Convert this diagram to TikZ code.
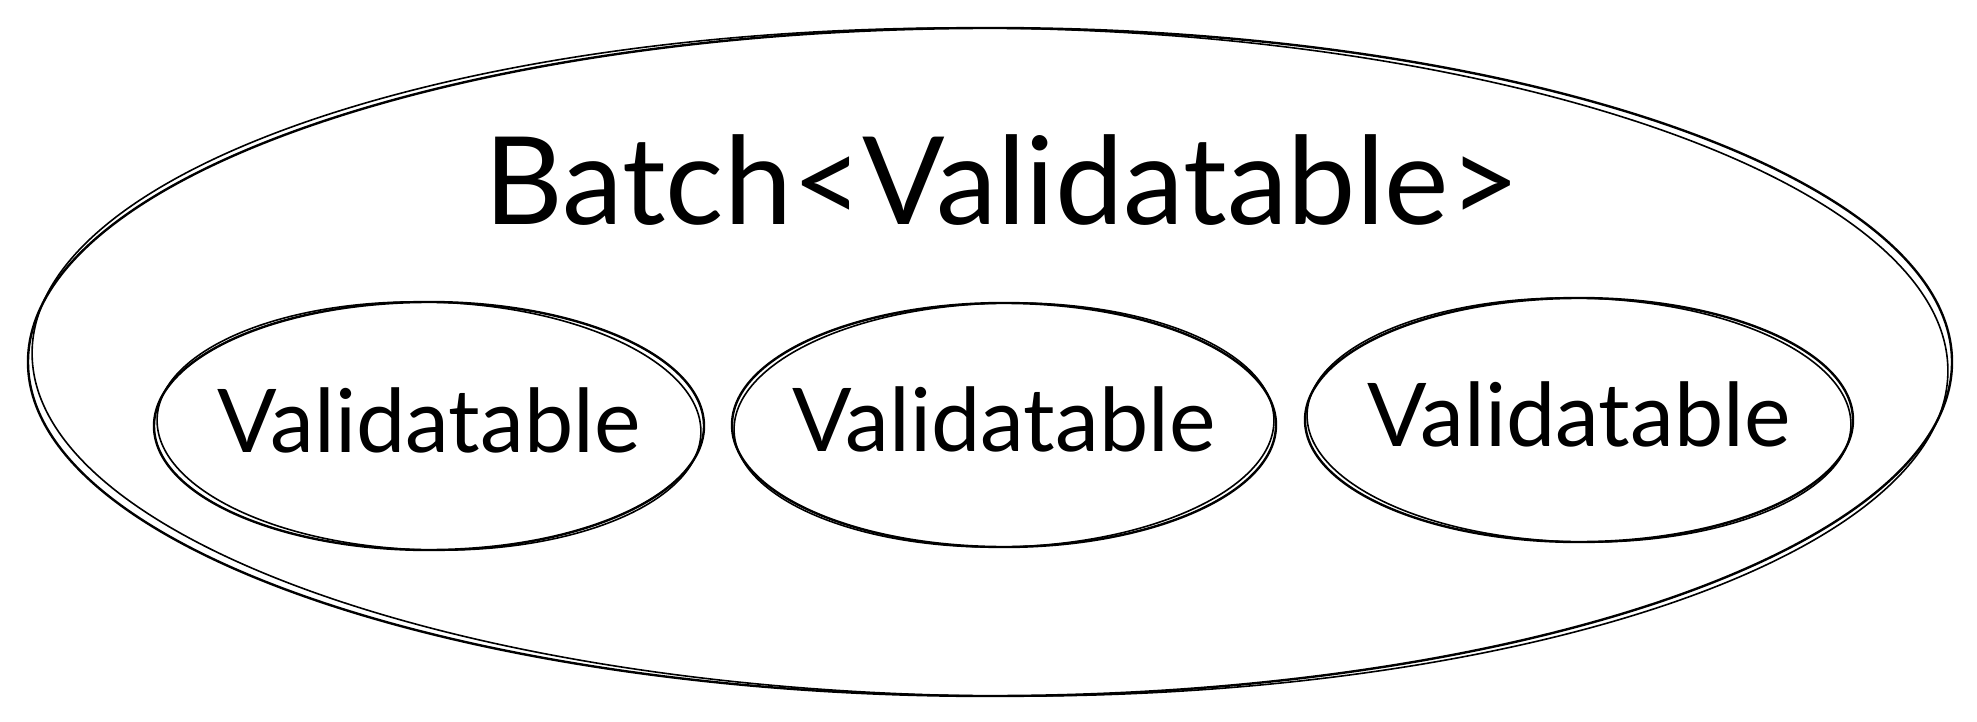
\documentclass[tikz,border=0pt]{standalone}
\usepackage{fontspec}
\setmainfont{Lato}
\usetikzlibrary{shapes.geometric}

\tikzset{
  blob/.style={draw, ellipse, line width=1.2pt, inner sep=0pt},
  retrace/.style={line width=0.8pt},
  itemtext/.style={font=\fontsize{44}{52}\selectfont, yshift=3pt},
}

\begin{document}
\begin{tikzpicture}[x=0.5pt,y=-0.5pt]
\useasboundingbox (0,0) rectangle (1977,722);

% the batch
\node[blob, minimum width=962pt, minimum height=334pt] (batch) at (990,362) {};
\node[font=\fontsize{61}{72}\selectfont] (title) at (1002,180) {Batch<Validatable>};

% the items
\node[blob, minimum width=275pt, minimum height=124pt,
  label={[itemtext]center:Validatable}] (valA) at (429,426) {};
\node[blob, minimum width=272pt, minimum height=122pt,
  label={[itemtext]center:Validatable}] (valB) at (1004,425) {};
\node[blob, minimum width=274pt, minimum height=122pt,
  label={[itemtext]center:Validatable}] (valC) at (1579,420) {};

% second strokes
\draw[retrace] (batch.center) ellipse [x radius=479pt, y radius=167pt, rotate=-0.6];
\draw[retrace] (valA.center) ellipse [x radius=136pt, y radius=62pt, rotate=-1.5];
\draw[retrace] (valB.center) ellipse [x radius=135pt, y radius=61pt, rotate=1.2];
\draw[retrace] (valC.center) ellipse [x radius=136pt, y radius=61pt, rotate=-1.2];

\end{tikzpicture}
\end{document}
